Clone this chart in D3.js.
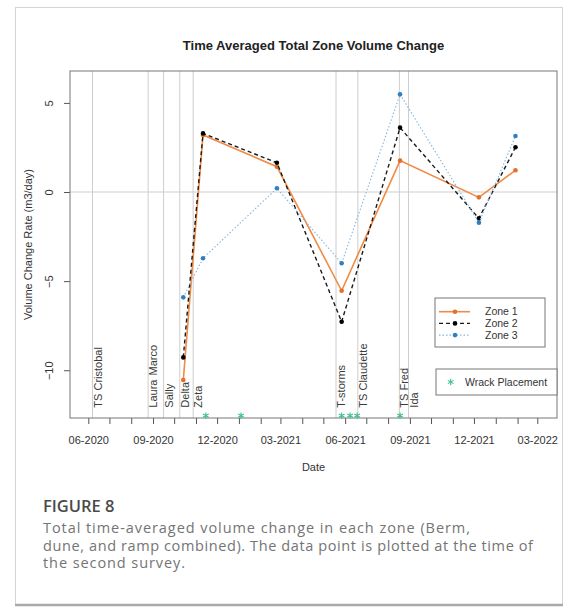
<!DOCTYPE html>
<html>
<head>
<meta charset="utf-8">
<script src="https://cdn.jsdelivr.net/npm/d3@7"></script>
<style>
  body { margin: 0; background: #fff; }
  svg { display: block; }
</style>
</head>
<body>
<div id="chart"></div>
<script>
// survey dates - each point is plotted at the time of the second survey
const surveyDates = ["2020-10-14", "2020-11-11", "2021-02-24", "2021-05-27", "2021-08-18", "2021-12-08", "2022-01-29"];
const zone1 = [-10.55, 3.2, 1.42, -5.54, 1.76, -0.3, 1.22];
const zone2 = [-9.28, 3.29, 1.64, -7.28, 3.61, -1.48, 2.51];
const zone3 = [-5.91, -3.72, 0.21, -4.0, 5.48, -1.72, 3.14];
const zoneNames = ["Zone 1", "Zone 2", "Zone 3"];

// storm events (vertical lines)
const stormNames = ["TS Cristobal", "Laura", "Marco", "Sally", "Delta", "Zeta", "T-storms", "TS Claudette", "TS Fred", "Ida"];
const stormDates = ["2020-06-07", "2020-08-25", "2020-08-25", "2020-09-16", "2020-10-09", "2020-10-28", "2021-05-19", "2021-06-19", "2021-08-17", "2021-08-30"];
const stormLabelLevel = -12.1;

// wrack placements
const wrackDates = ["2020-11-15", "2021-01-04", "2021-05-27", "2021-06-08", "2021-06-18", "2021-08-18"];
const wrackLevel = -12.55;

const xDomain = ["2020-05-06", "2022-03-29"];
const yDomain = [-12.68, 6.79];
const yTicks = [-10, -5, 0, 5];

const title = "Time Averaged Total Zone Volume Change";
const yLabel = "Volume Change Rate (m3/day)";
const xLabel = "Date";
const figureLabel = "FIGURE 8";
const captionLines = [
  "Total time-averaged volume change in each zone (Berm,",
  "dune, and ramp combined). The data point is plotted at the time of",
  "the second survey."
];

const parse = d3.utcParse("%Y-%m-%d");

// set the dimensions and margins of the graph
const width = 571, height = 608;
const margin = { top: 71, right: 14, bottom: 190, left: 70 };
const plotW = width - margin.left - margin.right;
const plotH = height - margin.top - margin.bottom;

const svg = d3.select("#chart").append("svg")
  .attr("width", width)
  .attr("height", height)
  .attr("font-family", "'Liberation Sans', Arial, sans-serif");

// figure frame
svg.append("rect")
  .attr("x", 15.5).attr("y", 7.5)
  .attr("width", 547).attr("height", 597)
  .attr("fill", "none")
  .attr("stroke", "#d4d4d4");
svg.append("line")
  .attr("x1", 15).attr("x2", 563)
  .attr("y1", 605).attr("y2", 605)
  .attr("stroke", "#a9a9a9")
  .attr("stroke-width", 2.5);

const g = svg.append("g")
  .attr("transform", `translate(${margin.left},${margin.top})`);

const x = d3.scaleUtc().domain(xDomain.map(parse)).range([0, plotW]);
const y = d3.scaleLinear().domain(yDomain).range([plotH, 0]);

// storm lines
const uniqueStormDates = Array.from(new Set(stormDates));
g.selectAll(".storm-line")
  .data(uniqueStormDates)
  .join("line")
  .attr("class", "storm-line")
  .attr("x1", d => x(parse(d))).attr("x2", d => x(parse(d)))
  .attr("y1", 0).attr("y2", plotH)
  .attr("stroke", "#cdcdcd")
  .attr("stroke-width", 1);

// zero line
g.append("line")
  .attr("x1", 0).attr("x2", plotW)
  .attr("y1", y(0)).attr("y2", y(0))
  .attr("stroke", "#cfcfcf");

// storm labels, stacked when they share a date
const stormLabels = g.append("g").attr("font-size", 11).attr("fill", "#3a3a3a");
let prev = null;
stormNames.forEach((name, i) => {
  const t = stormLabels.append("text").text(name);
  const len = t.node().getComputedTextLength();
  const lift = prev && prev.date === stormDates[i] ? prev.lift + prev.len + 4 : 0;
  const px = x(parse(stormDates[i])) + 9;
  const py = y(stormLabelLevel) - lift;
  t.attr("transform", `translate(${px},${py}) rotate(-90)`);
  prev = { date: stormDates[i], lift, len };
});

// axes
const xAxis = d3.axisBottom(x)
  .ticks(d3.utcMonth.every(1))
  .tickSize(6)
  .tickFormat(d => (d.getUTCMonth() + 1) % 3 === 0 ? d3.utcFormat("%m-%Y")(d) : "");

g.append("g")
  .attr("transform", `translate(0,${plotH})`)
  .call(xAxis)
  .attr("font-size", 11)
  .attr("font-family", null)
  .call(a => a.select(".domain").remove())
  .call(a => a.selectAll("line").attr("stroke", "#555"))
  .call(a => a.selectAll("text").attr("y", 18).attr("fill", "#333"));

g.append("g")
  .call(d3.axisLeft(y).tickValues(yTicks).tickSize(6))
  .attr("font-size", 11)
  .attr("font-family", null)
  .call(a => a.select(".domain").remove())
  .call(a => a.selectAll("line").attr("stroke", "#555"))
  .call(a => a.selectAll("text")
    .attr("transform", "rotate(-90)")
    .attr("x", 0).attr("y", -17).attr("dy", 0)
    .attr("text-anchor", "middle")
    .attr("fill", "#333"));

// plot box
g.append("rect")
  .attr("width", plotW).attr("height", plotH)
  .attr("fill", "none")
  .attr("stroke", "#777");

// zone series
const zoneStyles = [
  { line: "#f08a45", point: "#e2702a", dash: null, w: 1.6 },
  { line: "#1a1a1a", point: "#000", dash: "4,3", w: 1.4 },
  { line: "#82b6e0", point: "#2f7fc1", dash: "1.5,2", w: 1.1 }
];
const series = [zone1, zone2, zone3].map(vals =>
  vals.map((v, j) => ({ date: parse(surveyDates[j]), value: v })));

const valueLine = d3.line()
  .x(d => x(d.date))
  .y(d => y(d.value));

series.forEach((data, i) => {
  const s = zoneStyles[i];
  g.append("path")
    .datum(data)
    .attr("fill", "none")
    .attr("stroke", s.line)
    .attr("stroke-width", s.w)
    .attr("stroke-dasharray", s.dash)
    .attr("d", valueLine);
  g.selectAll(null)
    .data(data)
    .join("circle")
    .attr("cx", d => x(d.date))
    .attr("cy", d => y(d.value))
    .attr("r", 2.3)
    .attr("fill", s.point);
});

// wrack placements
const wrackColor = "#3cbf8d";
const asterisk = d3.symbol(d3.symbolAsterisk || d3.symbolCross, 30);
g.selectAll(".wrack")
  .data(wrackDates)
  .join("path")
  .attr("class", "wrack")
  .attr("transform", d => `translate(${x(parse(d))},${y(wrackLevel)})`)
  .attr("d", asterisk)
  .attr("fill", "none")
  .attr("stroke", wrackColor)
  .attr("stroke-width", 1.1);

// zone legend
const leg = g.append("g").attr("transform", `translate(365,227)`);
leg.append("rect")
  .attr("width", 110).attr("height", 49)
  .attr("fill", "#fff").attr("stroke", "#777");
zoneNames.forEach((name, i) => {
  const s = zoneStyles[i];
  const ly = 13.7 + i * 11.7;
  leg.append("line")
    .attr("x1", 4).attr("x2", 35)
    .attr("y1", ly).attr("y2", ly)
    .attr("stroke", s.line)
    .attr("stroke-width", s.w)
    .attr("stroke-dasharray", s.dash);
  leg.append("circle").attr("cx", 20).attr("cy", ly).attr("r", 2.3).attr("fill", s.point);
  leg.append("text")
    .attr("x", 50).attr("y", ly).attr("dy", "0.35em")
    .attr("font-size", 10.5).attr("fill", "#333")
    .text(name);
});

// wrack legend
const leg2 = g.append("g").attr("transform", `translate(366,298)`);
leg2.append("rect")
  .attr("width", 121).attr("height", 26)
  .attr("fill", "#fff").attr("stroke", "#777");
leg2.append("path")
  .attr("transform", "translate(14.7,13)")
  .attr("d", asterisk)
  .attr("fill", "none")
  .attr("stroke", wrackColor)
  .attr("stroke-width", 1.1);
leg2.append("text")
  .attr("x", 29).attr("y", 13).attr("dy", "0.35em")
  .attr("font-size", 10.5).attr("fill", "#333")
  .text("Wrack Placement");

// titles
svg.append("text")
  .attr("x", margin.left + plotW / 2).attr("y", 50)
  .attr("text-anchor", "middle")
  .attr("font-size", 13).attr("font-weight", "bold").attr("fill", "#222")
  .text(title);

svg.append("text")
  .attr("transform", `translate(32,${margin.top + plotH / 2}) rotate(-90)`)
  .attr("text-anchor", "middle")
  .attr("font-size", 11).attr("fill", "#333")
  .text(yLabel);

svg.append("text")
  .attr("x", margin.left + plotW / 2).attr("y", 471)
  .attr("text-anchor", "middle")
  .attr("font-size", 11).attr("fill", "#333")
  .text(xLabel);

// caption
svg.append("text")
  .attr("x", 43).attr("y", 512)
  .attr("font-family", "'Open Sans', sans-serif")
  .attr("font-size", 16.5).attr("font-weight", 600).attr("fill", "#4a4a4a")
  .text(figureLabel);

const captionWidths = [427, 490, 142];
captionLines.forEach((line, i) => {
  svg.append("text")
    .attr("x", 43).attr("y", 533 + i * 17.5)
    .attr("font-family", "'Open Sans', sans-serif")
    .attr("font-size", 14.5).attr("fill", "#747474")
    .attr("textLength", captionWidths[i])
    .attr("lengthAdjust", "spacing")
    .text(line);
});
</script>
</body>
</html>
